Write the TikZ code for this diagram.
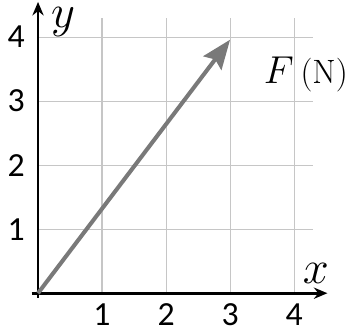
\documentclass[tikz,border=0pt]{standalone}
\usepackage{fontspec}
\newfontfamily\numfont{Carlito}
\usetikzlibrary{arrows.meta}
\begin{document}
\begin{tikzpicture}[x=1cm, y=1cm, >=Stealth,
    ticklabel/.style={font=\numfont\fontsize{15}{17}\selectfont, inner sep=1pt},
    axislabel/.style={font=\fontsize{20}{22}\selectfont, inner sep=0pt}]
    \useasboundingbox (-0.594,-0.64) rectangle (4.92,4.58);

    \draw[gray!45, line width=0.5pt] (0,0) grid[step=1] (4.3,4.3);

    \coordinate (O) at (0,0);
    \coordinate (xend) at (4.52,0);
    \coordinate (yend) at (0,4.55);
    \draw[line width=1.2pt, -{Stealth[length=6pt, width=5pt]}] (-0.1,0) -- (xend);
    \draw[line width=1.2pt, -{Stealth[length=6pt, width=5pt]}] (0,-0.07) -- (yend);

    \foreach \n in {1,2,3,4} {
        \node[ticklabel] (xt\n) at (\n,-0.33) {\n};
        \node[ticklabel] (yt\n) at (-0.34,\n) {\n};
    }

    \node[axislabel] (xlab) at (4.34,0.31) {\(x\)};
    \node[axislabel] (ylab) at (0.39,4.24) {\(y\)};

    \coordinate (Ftip) at (3,3.96);
    \draw[gray!95!black, line width=1.8pt, -{Stealth[length=13pt, width=10pt, inset=2pt]}] (O) -- (Ftip);
    \node[anchor=base west, inner sep=0pt] (Flab) at (3.52,3.28)
        {\fontsize{18}{20}\selectfont\(F\)\,\fontsize{15}{17}\selectfont(N)};
\end{tikzpicture}
\end{document}
